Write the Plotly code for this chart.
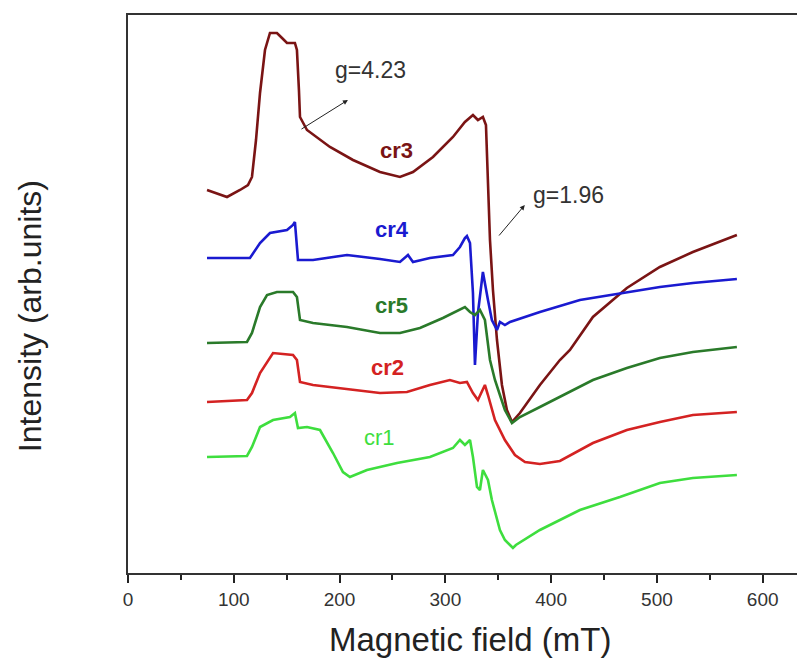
import plotly.graph_objects as go

# x in mT, intensity in arbitrary units
cr3_x = [74.7, 82.2, 93.6, 105.9, 113.4, 117.2, 121.0, 124.8, 129.5, 134.2, 140.8, 145.6, 150.3, 157.8, 159.7, 161.6, 162.6, 169.2, 190.9, 212.7, 238.2, 257.1, 269.4, 288.3, 307.2, 318.5, 326.1, 330.8, 335.5, 338.4, 340.3, 342.2, 345.0, 348.8, 353.5, 358.2, 363.0, 370.5, 389.4, 408.3, 417.8, 439.5, 471.6, 502.8, 534.0, 575.6]
cr3_y = [383, 380, 376, 383, 388, 396, 433, 480, 523, 540, 540, 535, 530, 530, 523, 483, 456, 443, 426, 413, 401, 396, 401, 416, 436, 451, 458, 453, 456, 448, 393, 333, 283, 233, 188, 163, 151, 160, 188, 213, 223, 256, 285, 306, 321, 338]

cr4_x = [74.7, 115.3, 124.8, 134.2, 150.3, 156.0, 157.8, 160.7, 174.9, 207.0, 238.2, 257.1, 264.7, 269.4, 285.4, 307.2, 313.8, 318.5, 320.4, 323.3, 326.1, 328.0, 330.8, 335.5, 340.3, 344.0, 348.8, 351.6, 356.3, 361.1, 389.4, 427.2, 467.9, 502.8, 534.0, 575.6]
cr4_y = [315, 315, 330, 340, 343, 348, 351, 313, 313, 318, 314, 311, 318, 311, 315, 318, 326, 335, 337, 330, 280, 208, 260, 301, 273, 253, 243, 251, 248, 251, 261, 273, 280, 286, 290, 294]

cr5_x = [74.7, 112.5, 117.2, 124.8, 131.4, 140.8, 156.0, 159.7, 162.6, 174.9, 207.0, 238.2, 257.1, 276.0, 297.7, 313.8, 318.5, 323.3, 328.0, 332.7, 337.4, 342.2, 346.9, 351.6, 356.3, 363.0, 370.5, 389.4, 408.3, 439.5, 471.6, 502.8, 534.0, 575.6]
cr5_y = [230, 231, 240, 266, 278, 281, 281, 276, 253, 250, 246, 240, 240, 245, 255, 263, 266, 261, 258, 263, 253, 213, 193, 178, 163, 150, 156, 166, 176, 193, 205, 215, 221, 226]

cr2_x = [74.7, 112.5, 117.2, 124.8, 137.1, 156.0, 159.7, 162.6, 174.9, 207.0, 238.2, 263.7, 285.4, 304.3, 313.8, 320.4, 326.1, 330.8, 334.6, 337.4, 340.3, 346.9, 356.3, 365.8, 375.3, 389.4, 408.3, 439.5, 471.6, 502.8, 534.0, 575.6]
cr2_y = [171, 173, 180, 200, 220, 218, 213, 191, 188, 184, 180, 181, 188, 193, 190, 191, 180, 173, 181, 188, 178, 153, 133, 118, 111, 109, 112, 130, 143, 151, 158, 161]

cr1_x = [74.7, 112.5, 117.2, 124.8, 137.1, 153.1, 157.8, 160.7, 169.2, 181.5, 193.8, 203.2, 209.8, 225.9, 254.3, 285.4, 307.2, 313.8, 318.5, 323.3, 326.1, 329.9, 332.7, 335.5, 340.3, 344.0, 351.6, 356.3, 361.1, 363.9, 366.7, 389.4, 427.2, 465.0, 502.8, 534.0, 575.6]
cr1_y = [116, 117, 126, 146, 153, 156, 160, 145, 146, 143, 120, 101, 96, 103, 110, 116, 125, 133, 128, 133, 116, 86, 83, 103, 93, 73, 43, 33, 28, 25, 28, 43, 63, 76, 90, 95, 98]

series = [
    ("cr3", cr3_x, cr3_y, "#7a1414"),
    ("cr4", cr4_x, cr4_y, "#1a1ad0"),
    ("cr5", cr5_x, cr5_y, "#2a7a2a"),
    ("cr2", cr2_x, cr2_y, "#d42222"),
    ("cr1", cr1_x, cr1_y, "#3ede3e"),
]

# curve labels: (text, x mT, y intensity)
label_text = ["cr3", "cr4", "cr5", "cr2", "cr1"]
label_x = [254.0, 249.5, 249.5, 245.7, 238.2]
label_y = [423, 344, 268, 206, 136]

x_tick_vals = [0, 100, 200, 300, 400, 500, 600]

fig = go.Figure()
for name, xs, ys, col in series:
    fig.add_trace(go.Scatter(x=xs, y=ys, mode="lines", name=name,
                             line=dict(color=col, width=2.6), showlegend=False))

for t, lx, ly, (_, _, _, col) in zip(label_text, label_x, label_y, series):
    bold = t != "cr1"
    fig.add_annotation(x=lx, y=ly, text=(f"<b>{t}</b>" if bold else t), showarrow=False,
                       font=dict(family="Liberation Sans, Arial", size=22, color=col))

# g-value annotations with arrows
fig.add_annotation(x=207.9, y=473, ax=162.6, ay=443, axref="x", ayref="y",
                   xref="x", yref="y", text="", showarrow=True,
                   arrowhead=2, arrowsize=1, arrowwidth=1, arrowcolor="#222")
fig.add_annotation(x=229.6, y=503, text="g=4.23", showarrow=False,
                   font=dict(family="Liberation Sans, Arial", size=23, color="#333"))
fig.add_annotation(x=375.1, y=368, ax=349.6, ay=336, axref="x", ayref="y",
                   xref="x", yref="y", text="", showarrow=True,
                   arrowhead=2, arrowsize=1, arrowwidth=1, arrowcolor="#222")
fig.add_annotation(x=416.8, y=378, text="g=1.96", showarrow=False,
                   font=dict(family="Liberation Sans, Arial", size=23, color="#333"))

# axis titles as annotations for exact placement
fig.add_annotation(xref="paper", yref="paper", x=-0.145, y=0.46, textangle=-90,
                   text="Intensity (arb.units)", showarrow=False,
                   xanchor="center", yanchor="middle",
                   font=dict(family="Liberation Sans, Arial", size=32, color="#222"))
fig.add_annotation(xref="paper", yref="paper", x=0.505, y=-0.12,
                   text="Magnetic field (mT)", showarrow=False,
                   xanchor="center", yanchor="middle",
                   font=dict(family="Liberation Sans, Arial", size=33, color="#222"))

fig.update_layout(
    width=797, height=651,
    margin=dict(l=120, r=0, t=7, b=86),
    paper_bgcolor="white", plot_bgcolor="white",
    font=dict(family="Liberation Sans, Arial", color="#222"),
    xaxis=dict(range=[0, 640], tickvals=x_tick_vals, ticks="outside", ticklen=8,
               tickwidth=1.5, tickcolor="#222", showline=True, linecolor="#333",
               linewidth=2, mirror=True, showgrid=False, zeroline=False,
               tickfont=dict(size=19, color="#333"),
               minor=dict(tickvals=[50, 150, 250, 350, 450, 550], ticks="outside",
                          ticklen=5, tickwidth=1.5, tickcolor="#222")),
    yaxis=dict(range=[0, 558], showticklabels=False, ticks="", showline=True,
               linecolor="#333", linewidth=2, mirror=False, showgrid=False, zeroline=False),
)

fig.write_html("out.html")
